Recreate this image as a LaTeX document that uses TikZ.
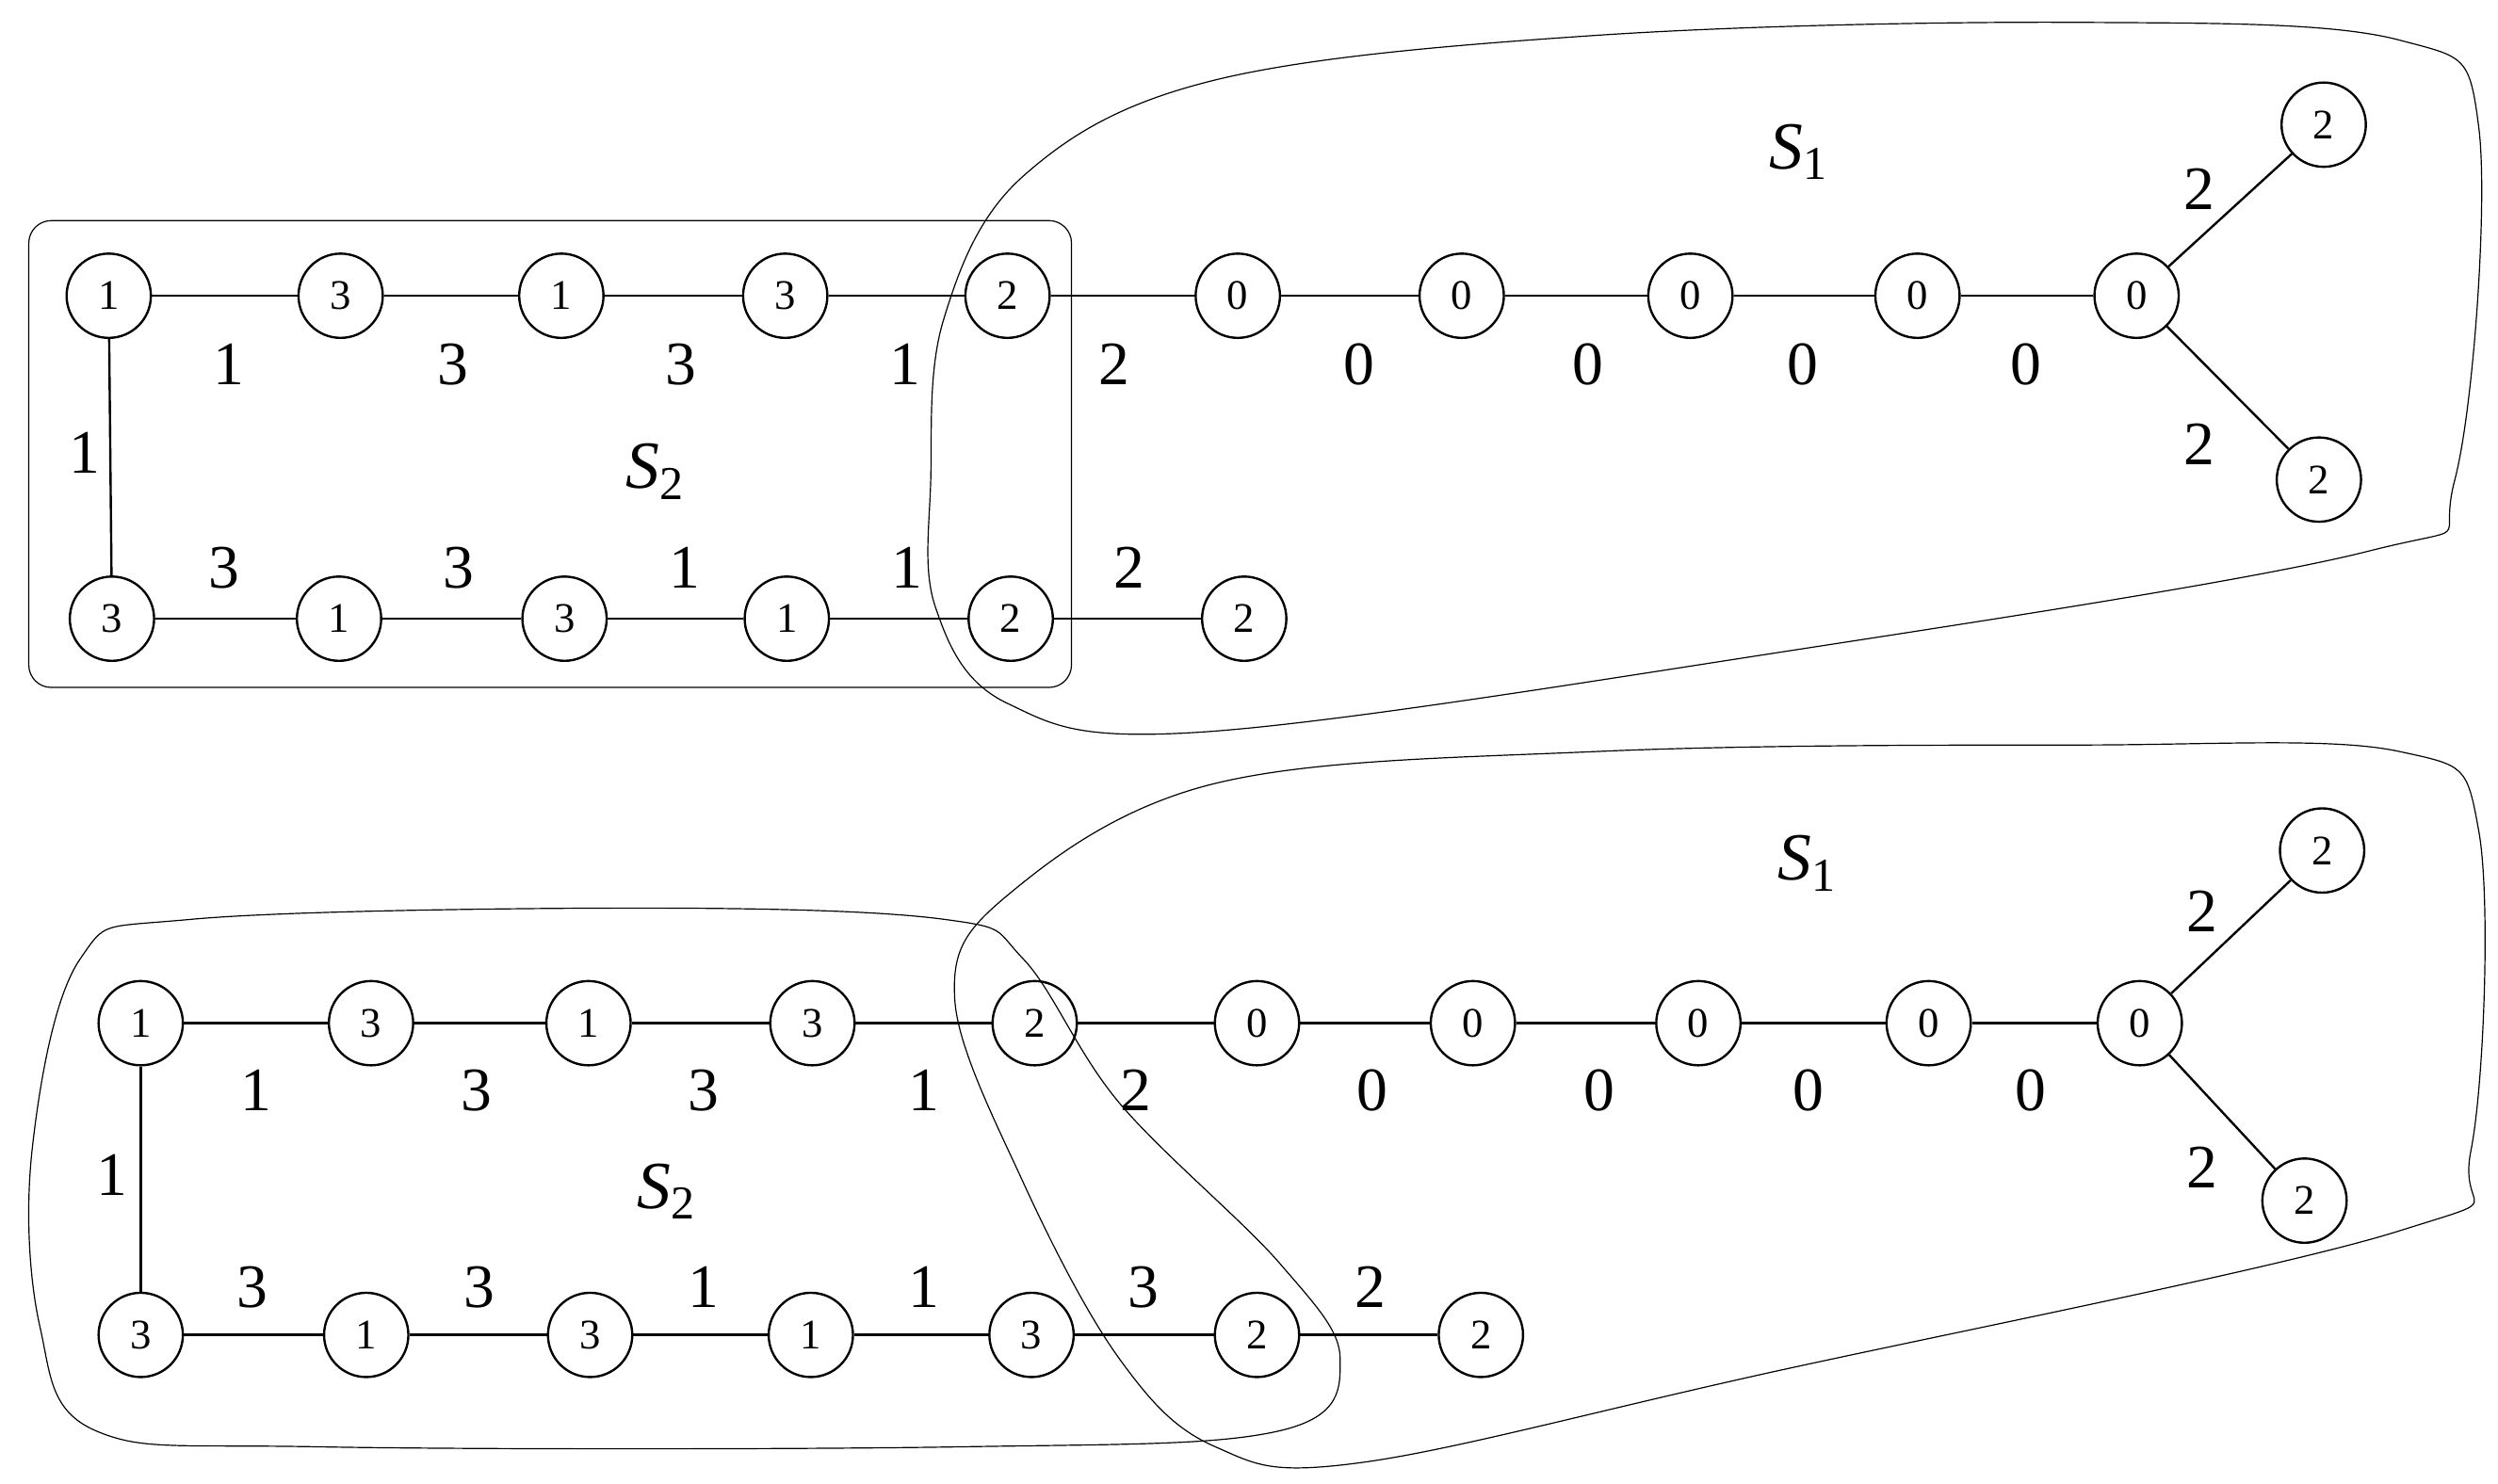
\documentclass[tikz,border=0pt]{standalone}
\usepackage{fontspec}
\setmainfont{Liberation Serif}
\begin{document}
\begin{tikzpicture}[x=0.02cm,y=-0.02cm,
 v/.style={circle,draw,thick,minimum size=30pt,inner sep=0pt,font=\fontsize{15}{15}\selectfont},
 l/.style={font=\fontsize{22}{22}\selectfont},
 s/.style={font=\fontsize{24}{24}\selectfont\itshape},
 e/.style={thick}]
\useasboundingbox (0,0) rectangle (1562,928);
% ---------- top ----------
\draw[rounded corners=8pt] (18,138) rectangle (670,430);
\draw plot[smooth cycle,tension=0.6] coordinates{(582,300) (590,200) (640,110) (760,50) (1000,22) (1300,14) (1500,25) (1550,80) (1535,300) (1480,345) (1100,410) (750,458) (630,440) (585,380)};
\foreach \n/\x/\t in {a1/68/1,a2/213/3,a3/351/1,a4/491/3,a5/630/2,a6/774/0,a7/914/0,a8/1057/0,a9/1199/0,a10/1336/0}
  \node[v] (\n) at (\x,185) {\t};
\foreach \n/\x/\t in {b1/70/3,b2/212/1,b3/353/3,b4/492/1,b5/632/2,b6/778/2}
  \node[v] (\n) at (\x,387) {\t};
\node[v] (t1) at (1453,78) {2};
\node[v] (t2) at (1450,300) {2};
\foreach \p/\q in {a1/a2,a2/a3,a3/a4,a4/a5,a5/a6,a6/a7,a7/a8,a8/a9,a9/a10,a10/t1,a10/t2,a1/b1,b1/b2,b2/b3,b3/b4,b4/b5,b5/b6}
  \draw[e] (\p) -- (\q);
\foreach \x/\t in {143/1,283/3,426/3,566/1,697/2,850/0,993/0,1127/0,1267/0}
  \node[l] at (\x,228) {\t};
\foreach \x/\t in {140/3,287/3,428/1,567/1,706/2}
  \node[l] at (\x,355) {\t};
\node[l] at (53,283) {1};
\node[l] at (1375,118) {2};
\node[l] at (1375,278) {2};
\node[s] at (1125,95) {S\textsubscript{\upshape 1}};
\node[s] at (410,295) {S\textsubscript{\upshape 2}};
% ---------- bottom ----------
\draw plot[smooth cycle,tension=0.6] coordinates{(20,720) (50,600) (120,575) (400,568) (590,575) (640,600) (700,690) (800,790) (838,850) (800,895) (600,905) (200,905) (60,895) (25,830)};
\draw plot[smooth cycle,tension=0.6] coordinates{(597,625) (630,560) (760,490) (1000,470) (1300,466) (1500,470) (1550,520) (1545,720) (1500,770) (1100,860) (850,915) (760,905) (700,850) (640,740)};
\foreach \n/\x/\t in {c1/88/1,c2/232/3,c3/368/1,c4/508/3,c5/647/2,c6/786/0,c7/921/0,c8/1062/0,c9/1206/0,c10/1338/0}
  \node[v] (\n) at (\x,640) {\t};
\foreach \n/\x/\t in {d1/88/3,d2/229/1,d3/369/3,d4/507/1,d5/645/3,d6/786/2,d7/926/2}
  \node[v] (\n) at (\x,835) {\t};
\node[v] (u1) at (1452,532) {2};
\node[v] (u2) at (1441,751) {2};
\foreach \p/\q in {c1/c2,c2/c3,c3/c4,c4/c5,c5/c6,c6/c7,c7/c8,c8/c9,c9/c10,c10/u1,c10/u2,c1/d1,d1/d2,d2/d3,d3/d4,d4/d5,d5/d6,d6/d7}
  \draw[e] (\p) -- (\q);
\foreach \x/\t in {160/1,298/3,440/3,578/1,710/2,858/0,1000/0,1131/0,1270/0}
  \node[l] at (\x,682) {\t};
\foreach \x/\t in {158/3,300/3,440/1,578/1,715/3,857/2}
  \node[l] at (\x,805) {\t};
\node[l] at (70,735) {1};
\node[l] at (1377,570) {2};
\node[l] at (1377,730) {2};
\node[s] at (1130,540) {S\textsubscript{\upshape 1}};
\node[s] at (417,745) {S\textsubscript{\upshape 2}};
\end{tikzpicture}
\end{document}
